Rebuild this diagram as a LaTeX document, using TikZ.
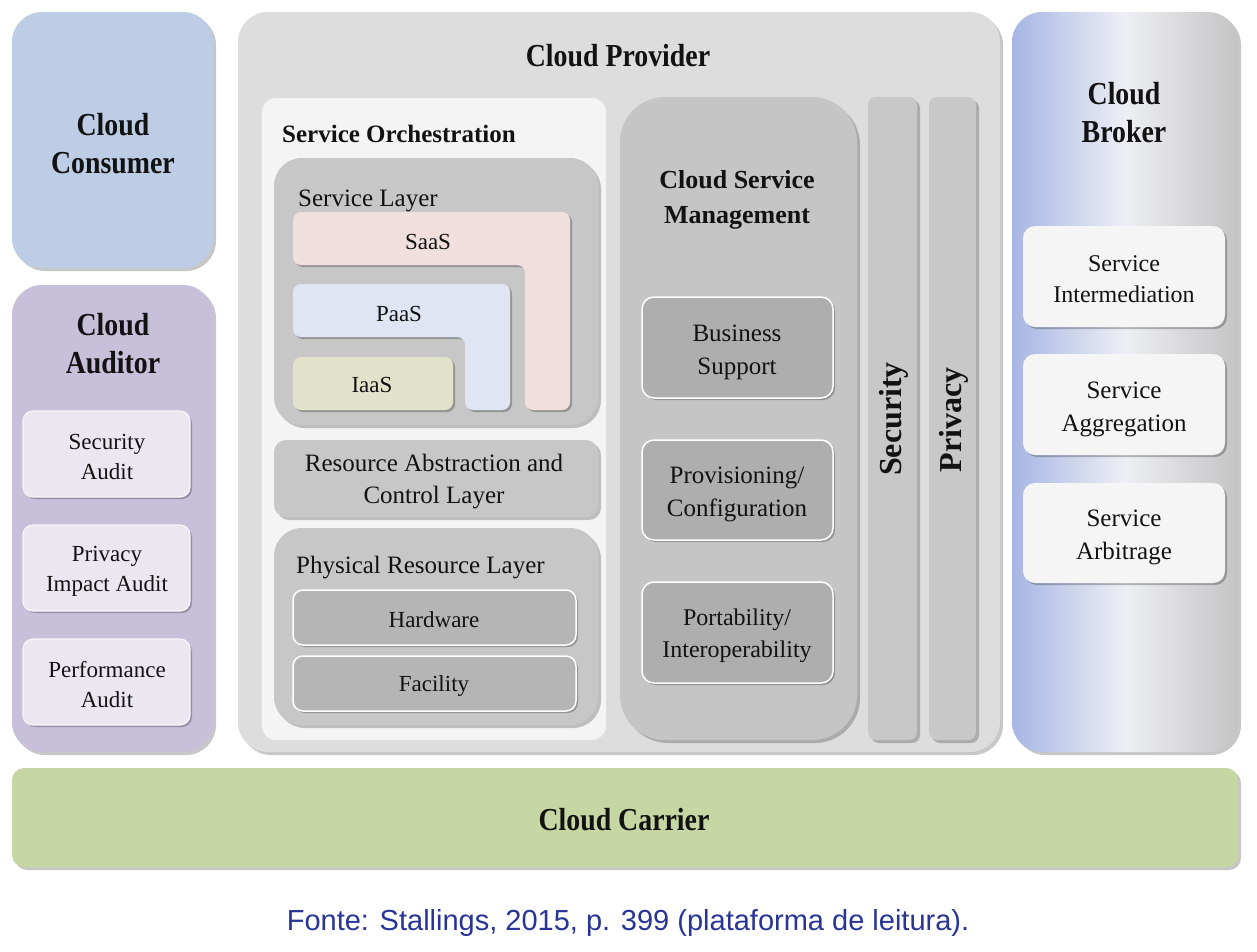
\documentclass[tikz,border=0pt]{standalone}
\usepackage{fontspec}
\setmainfont{Liberation Serif}
\newfontfamily\ttlfont[FakeStretch=0.87]{Liberation Serif}
\newfontfamily\capfont{Liberation Sans}
\usetikzlibrary{shadows}

\definecolor{txtc}{RGB}{18,18,18}
\definecolor{consc}{RGB}{189,205,230}
\definecolor{audc}{RGB}{200,192,218}
\definecolor{audbox}{RGB}{234,231,241}
\definecolor{provc}{RGB}{221,221,221}
\definecolor{orchc}{RGB}{244,244,244}
\definecolor{layc}{RGB}{199,199,199}
\definecolor{saasc}{RGB}{241,223,222}
\definecolor{paasc}{RGB}{223,229,243}
\definecolor{iaasc}{RGB}{226,225,201}
\definecolor{csmc}{RGB}{197,197,197}
\definecolor{csmbox}{RGB}{174,174,174}
\definecolor{hwc}{RGB}{181,181,181}
\definecolor{barc}{RGB}{200,200,200}
\definecolor{brkL}{RGB}{166,182,228}
\definecolor{brkM}{RGB}{238,239,244}
\definecolor{brkR}{RGB}{196,196,196}
\definecolor{brkbox}{RGB}{245,245,245}
\definecolor{carc}{RGB}{199,215,163}
\definecolor{capc}{RGB}{40,52,150}

\tikzset{
  shd/.style={drop shadow={shadow xshift=3pt, shadow yshift=-3pt, fill=black, opacity=0.22}},
  shds/.style={drop shadow={shadow xshift=2pt, shadow yshift=-2pt, fill=black, opacity=0.25}},
  txt/.style={inner sep=0pt, align=center, text=txtc},
  bigttl/.style={txt, font=\ttlfont\bfseries\fontsize{32}{38}\selectfont},
  midttl/.style={txt, font=\bfseries\fontsize{25}{35}\selectfont},
  bodytxt/.style={txt, font=\fontsize{25}{32}\selectfont},
  smalltxt/.style={txt, font=\fontsize{23}{30}\selectfont},
  bartxt/.style={txt, font=\bfseries\fontsize{32}{36}\selectfont, rotate=90},
  wbox/.style={draw=white, line width=1.5pt}
}

\begin{document}
\begin{tikzpicture}[x=1pt,y=-1pt]
\useasboundingbox[fill=white] (0,0) rectangle (1257,951);

% Cloud Consumer
\path[shd, fill=consc, rounded corners=30] (12,12) rectangle (213,268);
\node[bigttl] (consumer) at (113,144) {Cloud\\Consumer};

% Cloud Auditor
\path[shd, fill=audc, rounded corners=30] (12,285) rectangle (213,752);
\node[bigttl] (auditor) at (113,344) {Cloud\\Auditor};
\path[shds, fill=audbox, draw=white!60!audbox, line width=1.2pt, rounded corners=10] (23,411) rectangle (190,497);
\node[smalltxt] (secaudit) at (107,457) {Security\\Audit};
\path[shds, fill=audbox, draw=white!60!audbox, line width=1.2pt, rounded corners=10] (23,525) rectangle (190,611);
\node[smalltxt] (privaudit) at (107,571) {Privacy\\Impact Audit};
\path[shds, fill=audbox, draw=white!60!audbox, line width=1.2pt, rounded corners=10] (23,639) rectangle (190,725);
\node[smalltxt] (perfaudit) at (107,685) {Performance\\Audit};

% Cloud Provider
\path[shd, fill=provc, rounded corners=30] (238,12) rectangle (1000,752);
\node[bigttl] (provider) at (618,56) {Cloud Provider};

% Service Orchestration
\path[fill=orchc, rounded corners=14] (262,98) rectangle (606,740);
\node[midttl, anchor=west] (orch) at (282,134) {Service Orchestration};

% Service Layer
\path[shd, fill=layc, rounded corners=28] (274,158) rectangle (598,425);
\node[bodytxt, anchor=west] (svclayer) at (298,201) {Service Layer};
\path[shds, fill=saasc, rounded corners=8] (293,212) -- (570,212) -- (570,410) -- (525,410) -- (525,265) -- (293,265) -- cycle;
\node[smalltxt] (saas) at (428,242) {SaaS};
\path[shds, fill=paasc, rounded corners=8] (293,284) -- (510,284) -- (510,410) -- (465,410) -- (465,337) -- (293,337) -- cycle;
\node[smalltxt] (paas) at (399,314) {PaaS};
\path[shds, fill=iaasc, rounded corners=8] (293,357) rectangle (453,410);
\node[smalltxt] (iaas) at (372,385) {IaaS};

% Resource Abstraction
\path[shd, fill=layc, rounded corners=12] (274,440) rectangle (598,517);
\node[bodytxt] (resabs) at (434,482) {Resource Abstraction and\\Control Layer};

% Physical Resource Layer
\path[shd, fill=layc, rounded corners=28] (274,528) rectangle (598,725);
\node[bodytxt, anchor=west] (phys) at (296,568) {Physical Resource Layer};
\path[shds, fill=hwc, wbox, rounded corners=10] (293,590) rectangle (576,645);
\node[smalltxt] (hw) at (434,620) {Hardware};
\path[shds, fill=hwc, wbox, rounded corners=10] (293,656) rectangle (576,711);
\node[smalltxt] (fac) at (434,686) {Facility};

% Cloud Service Management
\path[shd, fill=csmc, rounded corners=45] (620,97) rectangle (857,740);
\node[midttl, font=\bfseries\fontsize{26}{35}\selectfont] (csm) at (737,200) {Cloud Service\\Management};
\path[shds, fill=csmbox, wbox, rounded corners=12] (642,297) rectangle (833,398);
\node[bodytxt, font=\fontsize{25}{33}\selectfont] (bss) at (737,352) {Business\\Support};
\path[shds, fill=csmbox, wbox, rounded corners=12] (642,440) rectangle (833,540);
\node[bodytxt, font=\fontsize{25}{33}\selectfont] (prov) at (737,494) {Provisioning/\\Configuration};
\path[shds, fill=csmbox, wbox, rounded corners=12] (642,582) rectangle (833,683);
\node[smalltxt, font=\fontsize{24}{32}\selectfont] (port) at (737,636) {Portability/\\Interoperability};

% Security and Privacy bars
\path[shd, fill=barc, rounded corners=8] (868,97) rectangle (917,740);
\node[bartxt] (security) at (894,419) {Security};
\path[shd, fill=barc, rounded corners=8] (929,97) rectangle (976,740);
\node[bartxt] (privacy) at (954,420) {Privacy};

% Cloud Broker
\path[shd, left color=brkL, right color=brkR, middle color=brkM, rounded corners=30] (1012,12) rectangle (1238,752);
\node[bigttl] (broker) at (1124,113) {Cloud\\Broker};
\path[shds, fill=brkbox, rounded corners=12] (1023,226) rectangle (1225,327);
\node[bodytxt, font=\fontsize{24}{31}\selectfont] (inter) at (1124,279) {Service\\Intermediation};
\path[shds, fill=brkbox, rounded corners=12] (1023,354) rectangle (1225,455);
\node[bodytxt, font=\fontsize{25}{33}\selectfont] (aggr) at (1124,409) {Service\\Aggregation};
\path[shds, fill=brkbox, rounded corners=12] (1023,483) rectangle (1225,583);
\node[bodytxt, font=\fontsize{25}{33}\selectfont] (arb) at (1124,537) {Service\\Arbitrage};

% Cloud Carrier
\path[shd, fill=carc, rounded corners=12] (12,768) rectangle (1238,867);
\node[bigttl] (carrier) at (624,820) {Cloud Carrier};

% Caption
\node[inner sep=0pt, text=capc, font=\capfont\fontsize{29}{34}\selectfont] (caption) at (628,923) {Fonte: Stallings, 2015, p. 399 (plataforma de leitura).};
\end{tikzpicture}
\end{document}
